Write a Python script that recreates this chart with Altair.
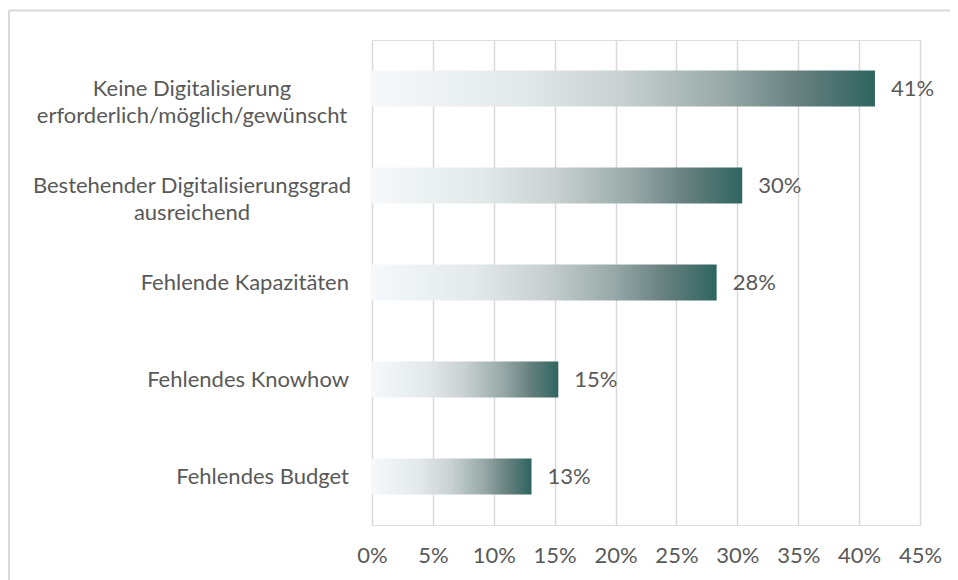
import altair as alt
import pandas as pd

categories = [
    "Keine Digitalisierung|erforderlich/möglich/gewünscht",
    "Bestehender Digitalisierungsgrad|ausreichend",
    "Fehlende Kapazitäten",
    "Fehlendes Knowhow",
    "Fehlendes Budget",
]
values = [41.3, 30.4, 28.3, 15.3, 13.1]
tick_values = [0, 5, 10, 15, 20, 25, 30, 35, 40, 45]

df = pd.DataFrame({"cat": categories, "val": values})

FONT = "Lato"
FS = 22
TXT = "#595959"
GRID = "#d9d9d9"

gradient = {
    "gradient": "linear",
    "x1": 0, "x2": 1, "y1": 0, "y2": 0,
    "stops": [
        {"offset": 0.0, "color": "#f5f9fc"},
        {"offset": 0.3, "color": "#e3e8eb"},
        {"offset": 0.5, "color": "#c8d0d1"},
        {"offset": 0.7, "color": "#98a9a8"},
        {"offset": 0.85, "color": "#66807e"},
        {"offset": 1.0, "color": "#2e6560"},
    ],
}

x_enc = alt.X(
    "val:Q",
    scale=alt.Scale(domain=[0, 45], nice=False, zero=True),
    axis=alt.Axis(
        values=tick_values, title=None, grid=True, gridColor=GRID, gridWidth=1.5,
        domain=False, ticks=False, labelExpr="datum.value + '%'",
        labelOverlap=False, labelFlush=False,
        labelFont=FONT, labelFontSize=FS, labelColor=TXT, labelPadding=20,
    ),
)
y_enc = alt.Y(
    "cat:N", sort=None,
    scale=alt.Scale(paddingInner=0, paddingOuter=0),
    axis=alt.Axis(title=None, domain=False, ticks=False, grid=False, labels=False),
)

base = alt.Chart(df)

bars = base.mark_bar(size=36, color=gradient).encode(x=x_enc, y=y_enc)

labels = base.transform_calculate(
    lbl="format(datum.val, '.0f') + '%'"
).mark_text(
    align="left", baseline="middle", dx=16, font=FONT, fontSize=FS, color=TXT
).encode(x="val:Q", y=alt.Y("cat:N", sort=None), text="lbl:N")

cat_multi = base.transform_filter("indexof(datum.cat, '|') >= 0").mark_text(
    align="center", baseline="middle", lineBreak="|", lineHeight=27,
    font=FONT, fontSize=FS, color=TXT
).encode(x=alt.value(-180), y=alt.Y("cat:N", sort=None), text="cat:N")

cat_single = base.transform_filter("indexof(datum.cat, '|') < 0").mark_text(
    align="right", baseline="middle", font=FONT, fontSize=FS, color=TXT
).encode(x=alt.value(-23), y=alt.Y("cat:N", sort=None), text="cat:N")

border_top = alt.Chart(pd.DataFrame({"a": [0]})).mark_rule(
    color=GRID, strokeWidth=2
).encode(x=alt.value(-363), x2=alt.value(600), y=alt.value(-29.5))
border_left = alt.Chart(pd.DataFrame({"a": [0]})).mark_rule(
    color=GRID, strokeWidth=2
).encode(x=alt.value(-363), y=alt.value(-29.5), y2=alt.value(560))

chart = alt.layer(border_top, border_left, bars, labels, cat_multi, cat_single).properties(
    width=548, height=485,
    autosize=alt.AutoSizeParams(type="none"),
    padding={"left": 364, "top": 32, "right": 30, "bottom": 55},
).configure_view(stroke=None).configure(background="white")

chart.save("out.html", embed_options={"renderer": "svg", "actions": False})
